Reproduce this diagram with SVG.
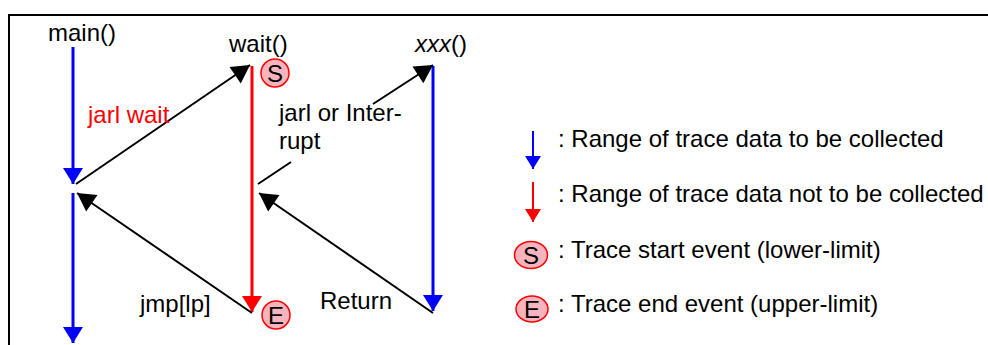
<svg xmlns="http://www.w3.org/2000/svg" width="988" height="345" viewBox="0 0 988 345">
<style>
text{font-family:"Liberation Sans",Arial,sans-serif;font-size:24px;fill:#000}
.red{fill:#ff0000}
.blk{stroke:#000;stroke-width:2;fill:none}
.blu{stroke:#0000ff;stroke-width:3;fill:none}
.rd{stroke:#ff0000;stroke-width:3;fill:none}
.ev{fill:#f7b4be;stroke:#ff0000;stroke-width:1.5}
</style>
<defs>
<marker id="ab" markerUnits="userSpaceOnUse" markerWidth="20" markerHeight="20" viewBox="0 0 18 20" refX="18" refY="10" orient="auto"><path d="M0,0 L18,10 L0,20 z" fill="#000"/></marker>
<marker id="abl" markerUnits="userSpaceOnUse" markerWidth="20" markerHeight="20" viewBox="0 0 16 20" refX="16" refY="10" orient="auto"><path d="M0,0 L16,10 L0,20 z" fill="#0000ff"/></marker>
<marker id="ard" markerUnits="userSpaceOnUse" markerWidth="20" markerHeight="20" viewBox="0 0 16 20" refX="16" refY="10" orient="auto"><path d="M0,0 L16,10 L0,20 z" fill="#ff0000"/></marker>
<marker id="lbl" markerUnits="userSpaceOnUse" markerWidth="16" markerHeight="16" viewBox="0 0 13 16" refX="13" refY="8" orient="auto"><path d="M0,0 L13,8 L0,16 z" fill="#0000ff"/></marker>
<marker id="lrd" markerUnits="userSpaceOnUse" markerWidth="16" markerHeight="16" viewBox="0 0 13 16" refX="13" refY="8" orient="auto"><path d="M0,0 L13,8 L0,16 z" fill="#ff0000"/></marker>
</defs>
<rect x="9" y="15" width="1000" height="400" fill="#fff" stroke="#000" stroke-width="2"/>
<g id="connectors">
<line class="blu" x1="73" y1="47" x2="73" y2="184" marker-end="url(#abl)"/>
<line class="blu" x1="73" y1="193" x2="73" y2="343" marker-end="url(#abl)"/>
<line class="rd" x1="252" y1="66" x2="252" y2="312" marker-end="url(#ard)"/>
<line class="blu" x1="433" y1="66" x2="433" y2="311" marker-end="url(#abl)"/>
<line class="blk" x1="76" y1="184" x2="250" y2="65" marker-end="url(#ab)"/>
<line class="blk" x1="252" y1="313" x2="77" y2="193" marker-end="url(#ab)"/>
<line class="blk" x1="258" y1="184" x2="291" y2="162"/>
<line class="blk" x1="373" y1="104" x2="433" y2="65" marker-end="url(#ab)"/>
<line class="blk" x1="433" y1="313" x2="259" y2="193" marker-end="url(#ab)"/>
</g>
<g id="main"><text x="48" y="41">main()</text></g>
<g id="wait"><text x="229" y="52">wait()</text></g>
<g id="xxx"><text x="415" y="52"><tspan font-style="italic">xxx</tspan>()</text></g>
<g id="label-jarl-wait"><text class="red" x="88" y="123">jarl wait</text></g>
<g id="label-jarl-interrupt"><text x="279" y="121">jarl or Inter-</text><text x="279" y="149">rupt</text></g>
<g id="label-jmp"><text x="140" y="312">jmp[lp]</text></g>
<g id="label-return"><text x="320" y="309">Return</text></g>
<g id="event-s"><circle class="ev" cx="275" cy="73" r="14"/><text x="275" y="81.5" text-anchor="middle">S</text></g>
<g id="event-e"><circle class="ev" cx="276" cy="315" r="14"/><text x="276" y="323.5" text-anchor="middle">E</text></g>
<g id="legend">
<line class="blu" style="stroke-width:2" x1="533" y1="131" x2="533" y2="169" marker-end="url(#lbl)"/>
<text x="558" y="147">: Range of trace data to be collected</text>
<line class="rd" style="stroke-width:2" x1="533" y1="182" x2="533" y2="222" marker-end="url(#lrd)"/>
<text x="558" y="202">: Range of trace data not to be collected</text>
<ellipse class="ev" cx="531" cy="255" rx="16.5" ry="13.5"/><text x="531" y="263.5" text-anchor="middle">S</text>
<text x="558" y="258">: Trace start event (lower-limit)</text>
<ellipse class="ev" cx="532" cy="309" rx="16" ry="13"/><text x="532" y="317.5" text-anchor="middle">E</text>
<text x="558" y="312">: Trace end event (upper-limit)</text>
</g>
</svg>
